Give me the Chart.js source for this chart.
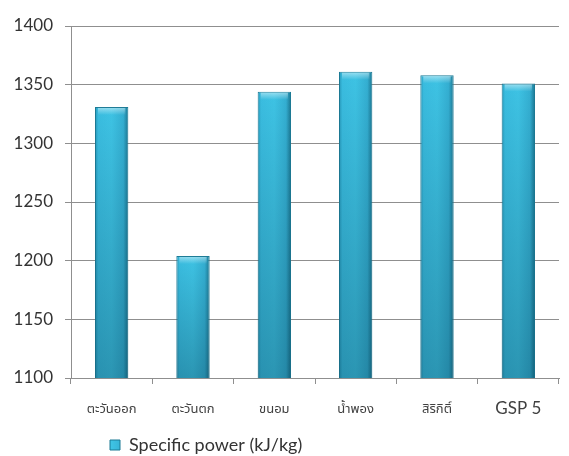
<!DOCTYPE html>
<html>
<head>
<meta charset="utf-8">
<script src="https://cdn.jsdelivr.net/npm/chart.js@4.4.1/dist/chart.umd.min.js"></script>
<style>
  html, body { margin: 0; padding: 0; background: #ffffff; }
  #wrap { width: 569px; height: 456px; position: relative; }
</style>
</head>
<body>
<div id="wrap"><canvas id="chart" width="569" height="456"></canvas></div>
<script>
// Categories (plant names) and measured specific power values
const categories = ['ตะวันออก', 'ตะวันตก', 'ขนอม', 'น้ำพอง', 'สิริกิติ์', 'GSP 5'];
const specificPower = [1331, 1204, 1344, 1361, 1358, 1351];
const seriesName = 'Specific power (kJ/kg)';
const yTicks = [1100, 1150, 1200, 1250, 1300, 1350, 1400];

const BAR_PCT = 0.41;
const FONT = "Lato, 'Noto Sans', 'Noto Sans Thai', sans-serif";

// Cylinder-style horizontal shading for each bar
function barFill(ctx) {
  const chart = ctx.chart;
  const xs = chart.scales && chart.scales.x;
  if (!xs || !chart.chartArea || ctx.dataIndex === undefined) return '#35b3d6';
  const cx = xs.getPixelForValue(ctx.dataIndex);
  const half = (xs.width / categories.length) * BAR_PCT / 2;
  const g = chart.ctx.createLinearGradient(cx - half, 0, cx + half, 0);
  g.addColorStop(0, '#2698ba');
  g.addColorStop(0.1, '#3abde0');
  g.addColorStop(0.5, '#3ec3e4');
  g.addColorStop(0.85, '#34afd2');
  g.addColorStop(1, '#1b7691');
  return g;
}

// Darkening toward the base plus a light bevel on the top of each bar
const barShade = {
  id: 'barShade',
  afterDatasetsDraw(chart) {
    const c = chart.ctx;
    const area = chart.chartArea;
    const meta = chart.getDatasetMeta(0);
    c.save();
    c.beginPath();
    c.rect(area.left, area.top, area.right - area.left, area.bottom - area.top);
    c.clip();
    meta.data.forEach(bar => {
      const p = bar.getProps(['x', 'y', 'base', 'width'], true);
      const l = p.x - p.width / 2, w = p.width;
      const t = Math.max(p.y, area.top);
      const b = Math.min(p.base, area.bottom);
      const g = c.createLinearGradient(0, t, 0, b);
      g.addColorStop(0, 'rgba(0,45,65,0)');
      g.addColorStop(1, 'rgba(0,45,65,0.3)');
      c.fillStyle = g;
      c.fillRect(l + 0.5, t, w - 1, b - t);
      const cap = c.createLinearGradient(0, t, 0, t + 8);
      cap.addColorStop(0, 'rgba(255,255,255,0.5)');
      cap.addColorStop(1, 'rgba(255,255,255,0)');
      c.fillStyle = cap;
      c.fillRect(l + 3, t + 1, w - 6, 7);
    });
    c.restore();
  }
};

// Place the legend under the left part of the plot
const legendShift = {
  id: 'legendShift',
  afterLayout(chart) {
    const lg = chart.legend;
    if (lg) {
      lg.left += 100; lg.right += 100;
      lg.top += 8; lg.bottom += 8;
    }
  }
};

new Chart(document.getElementById('chart'), {
  type: 'bar',
  data: {
    labels: categories,
    datasets: [{
      label: seriesName,
      data: specificPower,
      backgroundColor: barFill,
      borderColor: '#1c7a95',
      borderWidth: 1,
      barPercentage: BAR_PCT,
      categoryPercentage: 1
    }]
  },
  options: {
    responsive: false,
    animation: false,
    layout: { padding: { left: 0, right: 10, top: 26, bottom: 0 } },
    plugins: {
      tooltip: { enabled: false },
      legend: {
        position: 'bottom',
        align: 'start',
        labels: {
          boxWidth: 10,
          boxHeight: 10,
          padding: 10,
          color: '#333333',
          font: { family: FONT, size: 18 }
        }
      }
    },
    scales: {
      x: {
        offset: true,
        grid: {
          display: true,
          drawOnChartArea: false,
          drawTicks: true,
          tickLength: 6,
          offset: true,
          color: '#8f8f8f'
        },
        border: { color: '#8f8f8f' },
        ticks: {
          padding: 15,
          color: '#404040',
          font: (ctx) => ({
            family: FONT,
            size: categories[ctx.index] === 'GSP 5' ? 17 : 13,
            lineHeight: '20px'
          })
        },
        afterFit(scale) { scale.height = 40; }
      },
      y: {
        min: 1100,
        max: 1400,
        afterBuildTicks(scale) { scale.ticks = yTicks.map(v => ({ value: v })); },
        grid: { color: '#8f8f8f', tickLength: 6 },
        border: { color: '#8f8f8f' },
        ticks: {
          padding: 12,
          color: '#333333',
          font: { family: FONT, size: 17 },
          callback: (v) => String(v)
        },
        afterFit(scale) { scale.width = 71; }
      }
    }
  },
  plugins: [barShade, legendShift]
});
</script>
</body>
</html>
